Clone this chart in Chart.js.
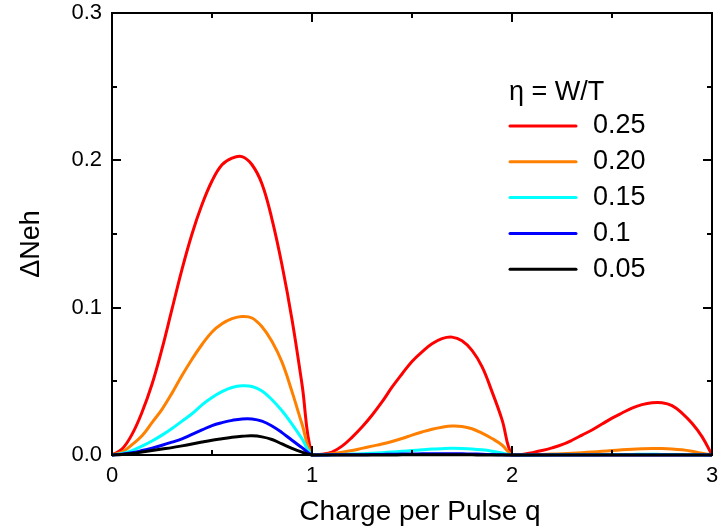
<!DOCTYPE html>
<html>
<head>
<meta charset="utf-8">
<script src="https://cdn.jsdelivr.net/npm/chart.js@4"></script>
<style>
  html, body { margin: 0; padding: 0; background: #fff; }
  canvas { display: block; }
</style>
</head>
<body>
<canvas id="chart" width="718" height="531"></canvas>
<script>
// charge per pulse q, step 0.05 from 0 to 3
var q = [0, 0.05, 0.1, 0.15, 0.2, 0.25, 0.3, 0.35, 0.4, 0.45, 0.5, 0.55, 0.6, 0.65, 0.7, 0.75, 0.8, 0.85, 0.9, 0.95,
         1, 1.05, 1.1, 1.15, 1.2, 1.25, 1.3, 1.35, 1.4, 1.45, 1.5, 1.55, 1.6, 1.65, 1.7, 1.75, 1.8, 1.85, 1.9, 1.95,
         2, 2.05, 2.1, 2.15, 2.2, 2.25, 2.3, 2.35, 2.4, 2.45, 2.5, 2.55, 2.6, 2.65, 2.7, 2.75, 2.8, 2.85, 2.9, 2.95, 3];

// delta N_eh for each eta
var eta25 = [0, 0.004, 0.014, 0.029, 0.048, 0.072, 0.099, 0.126, 0.150, 0.170, 0.186, 0.197, 0.2015, 0.2025, 0.197, 0.184, 0.160, 0.129, 0.092, 0.048,
             0, 0.0005, 0.002, 0.006, 0.012, 0.019, 0.027, 0.036, 0.046, 0.055, 0.0635, 0.070, 0.0755, 0.079, 0.080, 0.0775, 0.071, 0.060, 0.043, 0.024,
             0, 0.0004, 0.0016, 0.003, 0.0048, 0.007, 0.010, 0.0135, 0.017, 0.021, 0.025, 0.0285, 0.0318, 0.0342, 0.0355, 0.0355, 0.0335, 0.0285, 0.0215, 0.0125, 0];
var eta20 = [0, 0.002, 0.007, 0.013, 0.022, 0.031, 0.042, 0.054, 0.065, 0.075, 0.0835, 0.089, 0.0925, 0.094, 0.093, 0.087, 0.077, 0.063, 0.043, 0.021,
             0, 0.0002, 0.0008, 0.0018, 0.003, 0.0045, 0.006, 0.0075, 0.0092, 0.0112, 0.0135, 0.0156, 0.0175, 0.0189, 0.0197, 0.0194, 0.0178, 0.0148, 0.0112, 0.0068,
             0, 0.0001, 0.0002, 0.0004, 0.0006, 0.0009, 0.0012, 0.0016, 0.002, 0.0025, 0.003, 0.0035, 0.0039, 0.0042, 0.0044, 0.0044, 0.0041, 0.0035, 0.0025, 0.0012, 0];
var eta15 = [0, 0.001, 0.003, 0.006, 0.0095, 0.0135, 0.018, 0.023, 0.028, 0.034, 0.039, 0.043, 0.0458, 0.047, 0.0465, 0.0435, 0.0375, 0.030, 0.021, 0.011,
             0, 0.0001, 0.0002, 0.0004, 0.0006, 0.0009, 0.0012, 0.0016, 0.002, 0.0025, 0.003, 0.0035, 0.004, 0.0043, 0.0045, 0.0044, 0.0041, 0.0035, 0.0026, 0.0014,
             0, 0, 0, 0, 0.0001, 0.0001, 0.0001, 0.0002, 0.0002, 0.0003, 0.0003, 0.0004, 0.0004, 0.0005, 0.0005, 0.0004, 0.0004, 0.0003, 0.0002, 0.0001, 0];
var eta10 = [0, 0.0005, 0.0015, 0.003, 0.0047, 0.0066, 0.0087, 0.011, 0.014, 0.017, 0.020, 0.022, 0.0235, 0.0245, 0.0245, 0.023, 0.0197, 0.0152, 0.010, 0.005,
             0, 0, 0.0001, 0.0001, 0.0002, 0.0002, 0.0003, 0.0004, 0.0005, 0.0006, 0.0007, 0.0008, 0.0009, 0.0009, 0.0009, 0.0008, 0.0007, 0.0005, 0.0003, 0.0001,
             0, 0, 0, 0, 0, 0, 0, 0, 0, 0, 0, 0, 0, 0, 0, 0, 0, 0, 0, 0, 0];
var eta05 = [0, 0.0003, 0.001, 0.002, 0.003, 0.004, 0.005, 0.0062, 0.0075, 0.0088, 0.010, 0.011, 0.012, 0.0127, 0.013, 0.0123, 0.0105, 0.0075, 0.0045, 0.002,
             0, 0, 0, 0, 0, 0, 0, 0, 0, 0.0001, 0.0001, 0.0001, 0.0001, 0.0001, 0.0001, 0.0001, 0.0001, 0, 0, 0,
             0, 0, 0, 0, 0, 0, 0, 0, 0, 0, 0, 0, 0, 0, 0, 0, 0, 0, 0, 0, 0];

var labels = ['0.25', '0.20', '0.15', '0.1', '0.05'];
var colors = ['#ff0000', '#ff8000', '#00ffff', '#0000ff', '#000000'];
var series = [eta25, eta20, eta15, eta10, eta05];

var yMajor = [0, 0.1, 0.2, 0.3];
var yMinor = [0.05, 0.15, 0.25];
var xMajor = [0, 1, 2, 3];
var xMinor = [0.5, 1.5, 2.5];

var FONT = "'Liberation Sans', Arial, sans-serif";

function points(ys) {
    return q.map(function (x, i) { return { x: x, y: ys[i] }; });
}

//frame with inward ticks, titles and the legend
var framePlugin = {
    id: 'frame',
    afterDatasetsDraw: function (chart) {
        var ctx = chart.ctx;
        var a = chart.chartArea;
        var xs = chart.scales.x, ys = chart.scales.y;
        ctx.save();
        ctx.strokeStyle = '#000';
        ctx.lineWidth = 2;
        ctx.strokeRect(a.left, a.top, a.right - a.left, a.bottom - a.top);
        ctx.beginPath();
        function tickY(v, len) {
            var p = Math.round(ys.getPixelForValue(v));
            ctx.moveTo(a.left, p); ctx.lineTo(a.left + len, p);
            ctx.moveTo(a.right, p); ctx.lineTo(a.right - len, p);
        }
        function tickX(v, len) {
            var p = Math.round(xs.getPixelForValue(v));
            ctx.moveTo(p, a.bottom); ctx.lineTo(p, a.bottom - len);
            ctx.moveTo(p, a.top); ctx.lineTo(p, a.top + len);
        }
        yMajor.forEach(function (v) { tickY(v, 9); });
        yMinor.forEach(function (v) { tickY(v, 5); });
        xMajor.forEach(function (v) { tickX(v, 9); });
        xMinor.forEach(function (v) { tickX(v, 5); });
        ctx.stroke();
        ctx.restore();
    },
    afterDraw: function (chart) {
        var ctx = chart.ctx;
        ctx.save();
        ctx.fillStyle = '#000';

        // axis titles
        ctx.font = '28px ' + FONT;
        ctx.textAlign = 'center';
        ctx.textBaseline = 'alphabetic';
        ctx.fillText('Charge per Pulse q', 420, 520);

        ctx.save();
        ctx.translate(39, 244);
        ctx.rotate(-Math.PI / 2);
        ctx.font = '27px ' + FONT;
        ctx.fillText('\u0394Neh', 0, 0);
        ctx.restore();

        // legend
        ctx.font = '27px ' + FONT;
        ctx.textAlign = 'left';
        ctx.textBaseline = 'middle';
        ctx.fillText('\u03b7 = W/T', 509, 93);
        chart.data.datasets.forEach(function (ds, i) {
            var y = 126 + i * 35.8;
            ctx.strokeStyle = ds.borderColor;
            ctx.lineWidth = 3;
            ctx.lineCap = 'round';
            ctx.beginPath();
            ctx.moveTo(510, y);
            ctx.lineTo(576, y);
            ctx.stroke();
            ctx.fillText(ds.label, 593, y);
        });
        ctx.restore();
    }
};

var datasets = series.map(function (s, i) {
    return {
        label: labels[i],
        data: points(s),
        borderColor: colors[i],
        borderWidth: 3,
        pointRadius: 0,
        fill: false,
        tension: 0.4,
        clip: false,
        order: 4 - i
    };
});

new Chart(document.getElementById('chart'), {
    type: 'line',
    data: { datasets: datasets },
    plugins: [framePlugin],
    options: {
        responsive: false,
        animation: false,
        devicePixelRatio: 1,
        layout: { padding: { left: 0, right: 6, top: 13, bottom: 0 } },
        plugins: { legend: { display: false }, tooltip: { enabled: false } },
        scales: {
            x: {
                type: 'linear',
                min: 0,
                max: 3,
                grid: { display: false, drawTicks: false },
                border: { display: false },
                afterFit: function (s) {
                    s.height = 76;
                    s.paddingLeft = 0;
                    s.paddingRight = 0;
                },
                ticks: {
                    stepSize: 1,
                    padding: 8,
                    color: '#000',
                    maxRotation: 0,
                    font: { family: FONT, size: 22 }
                }
            },
            y: {
                min: 0,
                max: 0.3,
                grid: { display: false, drawTicks: false },
                border: { display: false },
                afterFit: function (s) {
                    s.width = 112;
                    s.paddingTop = 0;
                    s.paddingBottom = 0;
                },
                ticks: {
                    stepSize: 0.1,
                    padding: 10,
                    color: '#000',
                    font: { family: FONT, size: 22 },
                    callback: function (v) { return v.toFixed(1); }
                }
            }
        }
    }
});
</script>
</body>
</html>
